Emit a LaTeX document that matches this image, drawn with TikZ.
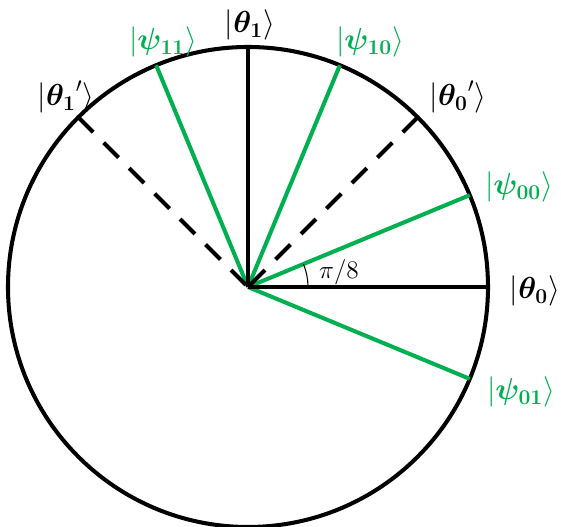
\documentclass[tikz,border=0pt]{standalone}
\usepackage{bm}
\usetikzlibrary{arrows.meta}
\definecolor{stgreen}{RGB}{0,176,80}

\begin{document}
\begin{tikzpicture}[line width=2.3pt,
  ket/.style={font=\LARGE,inner sep=1pt},
  gket/.style={font=\LARGE,text=stgreen,inner sep=1pt}]
  \useasboundingbox (-4.96,-4.8) rectangle (6.26,5.74);
  \coordinate (O) at (0,0);
  \coordinate (T0) at (0:4.8);
  \coordinate (T1) at (90:4.8);
  \coordinate (T0p) at (45:4.8);
  \coordinate (T1p) at (135:4.8);
  \coordinate (P00) at (22.5:4.8);
  \coordinate (P01) at (-22.5:4.8);
  \coordinate (P10) at (67.5:4.8);
  \coordinate (P11) at (112.5:4.8);
  \draw (O) circle (4.8);
  \draw[stgreen] (O) -- (P00);
  \draw[stgreen] (O) -- (P01);
  \draw[stgreen] (O) -- (P10);
  \draw[stgreen] (O) -- (P11);
  \draw (O) -- (T0);
  \draw (O) -- (T1);
  \draw[dash pattern=on 0.42cm off 0.3cm] (T0p) -- (O);
  \draw[dash pattern=on 0.42cm off 0.3cm] (T1p) -- (O);
  \draw[line width=0.6pt] (1.2,0) arc (0:22.5:1.2);
  \node (angle) at (1.82,0.3) {\Large $\pi/8$};
  \node[ket] (k0) at (5.74,-0.08) {$|\bm{\theta_0}\rangle$};
  \node[ket] (k1) at (0.04,5.24) {$|\bm{\theta_1}\rangle$};
  \node[ket] (k0p) at (4.2,3.8) {$|{\bm{\theta_0}}'\rangle$};
  \node[ket] (k1p) at (-3.64,3.8) {$|{\bm{\theta_1}}'\rangle$};
  \node[gket] (g00) at (5.42,2.0) {$|\bm{\psi_{00}}\rangle$};
  \node[gket] (g01) at (5.46,-2.1) {$|\bm{\psi_{01}}\rangle$};
  \node[gket] (g10) at (2.44,4.9) {$|\bm{\psi_{10}}\rangle$};
  \node[gket] (g11) at (-1.7,4.9) {$|\bm{\psi_{11}}\rangle$};
\end{tikzpicture}
\end{document}
